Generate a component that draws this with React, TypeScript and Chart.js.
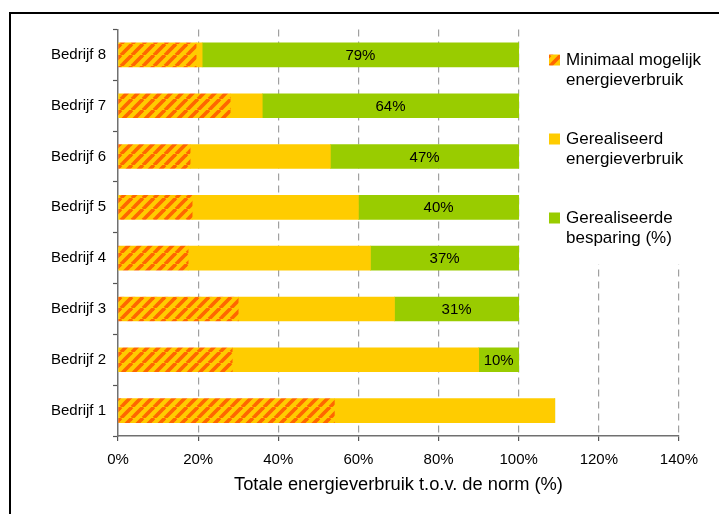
import { useEffect, useRef } from 'react';
import { Chart, registerables } from 'chart.js';

Chart.register(...registerables);

// Energy use per company, as % of the norm
const categories = ['Bedrijf 1', 'Bedrijf 2', 'Bedrijf 3', 'Bedrijf 4', 'Bedrijf 5', 'Bedrijf 6', 'Bedrijf 7', 'Bedrijf 8'];
const minimalUse = [54, 28.5, 30, 17.5, 18.5, 18, 28, 19.5];
const realizedUse = [109, 90, 69, 63, 60, 53, 36, 21];
const savings = [0, 10, 31, 37, 40, 47, 64, 79];

const seriesLabels = [
  ['Minimaal mogelijk', 'energieverbruik'],
  ['Gerealiseerd', 'energieverbruik'],
  ['Gerealiseerde', 'besparing (%)'],
];
const axisTitle = 'Totale energieverbruik t.o.v. de norm (%)';
const xMax = 140;
const xStep = 20;

const YELLOW = '#FFCC00';
const GREEN = '#99CC00';
const ORANGE = '#FF6600';
const FONT = "'Liberation Sans', Arial, sans-serif";

function makeHatch(): CanvasPattern | string {
  const s = 11;
  const c = document.createElement('canvas');
  c.width = s;
  c.height = s;
  const g = c.getContext('2d');
  if (!g) return ORANGE;
  g.fillStyle = YELLOW;
  g.fillRect(0, 0, s, s);
  g.strokeStyle = ORANGE;
  g.lineWidth = 3.7;
  for (let k = -1; k <= 1; k++) {
    g.beginPath();
    g.moveTo(k * s, s);
    g.lineTo(k * s + s, 0);
    g.stroke();
  }
  return g.createPattern(c, 'repeat') || ORANGE;
}

// Savings percentages inside the green segments, plus the side legend
const overlayPlugin = {
  id: 'overlay',
  afterDatasetsDraw(chart: any) {
    const { ctx, chartArea } = chart;
    ctx.save();

    const meta = chart.getDatasetMeta(2);
    ctx.font = `15px ${FONT}`;
    ctx.fillStyle = '#000';
    ctx.textAlign = 'center';
    ctx.textBaseline = 'middle';
    meta.data.forEach((el: any, i: number) => {
      if (!savings[i]) return;
      ctx.fillText(`${savings[i]}%`, (el.x + el.base) / 2, el.y + 1);
    });

    // legend panel (white background hides the grid behind it)
    const boxX = chartArea.right - 145;
    ctx.fillStyle = '#fff';
    ctx.fillRect(boxX, chartArea.top - 1, 175, 236);

    const markerX = chartArea.right - 130;
    const textX = markerX + 17;
    ctx.textAlign = 'left';
    ctx.font = `17px ${FONT}`;
    chart.data.datasets.forEach((ds: any, i: number) => {
      const top = chartArea.top + 25 + i * 79;
      ctx.fillStyle = ds.backgroundColor;
      ctx.fillRect(markerX, top, 11, 11);
      ctx.fillStyle = '#000';
      seriesLabels[i].forEach((line, j) => {
        ctx.fillText(line, textX, top + 6 + j * 20);
      });
    });
    ctx.restore();
  },
};

export default function App() {
  const canvasRef = useRef<HTMLCanvasElement | null>(null);

  useEffect(() => {
    const canvas = canvasRef.current;
    if (!canvas) return;
    const hatch = makeHatch();

    const chart = new Chart(canvas, {
      type: 'bar',
      data: {
        labels: categories,
        datasets: [
          {
            label: seriesLabels[0].join(' '),
            data: minimalUse,
            backgroundColor: hatch as any,
          },
          {
            label: seriesLabels[1].join(' '),
            data: realizedUse.map((v, i) => v - minimalUse[i]),
            backgroundColor: YELLOW,
          },
          {
            label: seriesLabels[2].join(' '),
            data: savings,
            backgroundColor: GREEN,
          },
        ],
      },
      options: {
        indexAxis: 'y',
        animation: false,
        responsive: false,
        devicePixelRatio: 1,
        layout: { padding: { top: 29.5, right: 40, bottom: 0, left: 0 } },
        datasets: {
          bar: { barThickness: 24, borderWidth: 0 },
        },
        plugins: {
          legend: { display: false },
          tooltip: { enabled: false },
        },
        scales: {
          x: {
            stacked: true,
            min: 0,
            max: xMax,
            afterFit: (scale: any) => {
              scale.height = 78;
            },
            ticks: {
              stepSize: xStep,
              padding: 10,
              color: '#000',
              font: { family: FONT, size: 15 },
              callback: (v: any) => `${v}%`,
            },
            grid: {
              color: (c: any) => (c.index === 0 ? 'rgba(0,0,0,0)' : '#a0a0a0'),
              lineWidth: 1.2,
              drawTicks: true,
              tickLength: 5,
              tickColor: '#555',
              tickWidth: 1.2,
            },
            border: { color: '#707070', width: 1.5, dash: [7, 5] },
            title: {
              display: true,
              text: axisTitle,
              color: '#000',
              font: { family: FONT, size: 18.3 },
              padding: { top: 4, bottom: 18 },
            },
          },
          y: {
            stacked: true,
            reverse: true,
            afterFit: (scale: any) => {
              scale.width = 118;
            },
            ticks: {
              padding: 7,
              color: '#000',
              font: { family: FONT, size: 15 },
            },
            grid: {
              offset: true,
              drawOnChartArea: false,
              drawTicks: true,
              tickLength: 5,
              tickColor: '#555',
              tickWidth: 1.2,
            },
            border: { color: '#707070', width: 1.5 },
          },
        },
      },
      plugins: [overlayPlugin],
    });

    return () => chart.destroy();
  }, []);

  return (
    <div
      style={{
        position: 'fixed',
        left: 0,
        top: 0,
        width: 719,
        height: 514,
        overflow: 'hidden',
        background: '#fff',
      }}
    >
      <div
        style={{
          position: 'absolute',
          left: 9,
          top: 12,
          width: 800,
          height: 600,
          border: '2px solid #000',
          boxSizing: 'border-box',
        }}
      />
      <canvas
        ref={canvasRef}
        width={719}
        height={514}
        style={{ position: 'absolute', left: 0, top: 0, width: 719, height: 514 }}
      />
    </div>
  );
}
